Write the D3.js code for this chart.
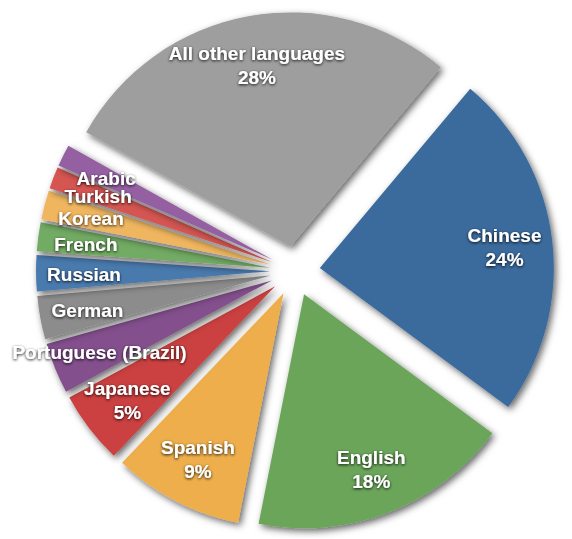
<!DOCTYPE html>
<html><head><meta charset="utf-8">
<script src="https://cdn.jsdelivr.net/npm/d3@7"></script>
<style>html,body{margin:0;padding:0;background:#fff;} svg{display:block}</style>
</head><body>
<script>
const languages = ["Chinese","English","Spanish","Japanese","Portuguese (Brazil)","German","Russian","French","Korean","Turkish","Arabic","All other languages"];
const shares = [24,18,9,5,3.5,3,2.5,2,2,1.5,1.5,28];
const pctLabels = ["24%","18%","9%","5%","","","","","","","","28%"];
const colors = ["#3b6a9c","#6aa55a","#eeae4b","#cb4040","#83508d","#8b8c8b","#4a7aae","#72ab63","#f0b65f","#d55551","#9460a2","#9d9e9d"];

const W = 572, H = 539, cx = 295, cy = 271, R = 234, explode = 25, labelR = 186;

const svg = d3.select("body").append("svg").attr("width", W).attr("height", H);
const defs = svg.append("defs");
const sh = defs.append("filter").attr("id","shadow").attr("x","-20%").attr("y","-20%").attr("width","140%").attr("height","140%");
sh.append("feDropShadow").attr("dx",2.5).attr("dy",3).attr("stdDeviation",3.5)
  .attr("flood-color","#000").attr("flood-opacity",0.6);
const ts = defs.append("filter").attr("id","tshadow").attr("x","-20%").attr("y","-40%").attr("width","140%").attr("height","180%");
ts.append("feGaussianBlur").attr("in","SourceAlpha").attr("stdDeviation",1.6).attr("result","b");
ts.append("feOffset").attr("in","b").attr("dx",0).attr("dy",1).attr("result","o");
ts.append("feComponentTransfer").attr("in","o").attr("result","o2")
  .append("feFuncA").attr("type","linear").attr("slope",0.9);
const tm = ts.append("feMerge");
tm.append("feMergeNode").attr("in","o2");
tm.append("feMergeNode").attr("in","SourceGraphic");

const pie = d3.pie().sort(null).value(d => d)
  .startAngle(40 * Math.PI / 180).endAngle(400 * Math.PI / 180);
const arcs = pie(shares);
const arc = d3.arc().innerRadius(0).outerRadius(R);
const labelArc = d3.arc().innerRadius(labelR).outerRadius(labelR);
const off = a => { const m = (a.startAngle + a.endAngle) / 2; return [explode * Math.sin(m), -explode * Math.cos(m)]; };

const g = svg.append("g").attr("transform", `translate(${cx},${cy})`);
g.selectAll("path.slice").data(arcs).join("path")
  .attr("class","slice")
  .attr("d", arc)
  .attr("fill", (d,i) => colors[i])
  .attr("filter","url(#shadow)")
  .attr("transform", d => { const o = off(d); return `translate(${o[0]},${o[1]})`; });

const lg = g.append("g").attr("filter","url(#tshadow)")
  .attr("font-family","'Liberation Sans', Arial, Helvetica, sans-serif")
  .attr("font-weight","bold").attr("font-size",19).attr("fill","#fff").attr("text-anchor","middle");
arcs.forEach((d,i) => {
  const o = off(d);
  const c = labelArc.centroid(d);
  const x = c[0] + o[0], y = c[1] + o[1] + 1.5;
  if (pctLabels[i]) {
    lg.append("text").attr("x",x).attr("y",y - 12).attr("dy","0.35em").text(languages[i]);
    lg.append("text").attr("x",x).attr("y",y + 12).attr("dy","0.35em").text(pctLabels[i]);
  } else {
    lg.append("text").attr("x",x).attr("y",y).attr("dy","0.35em").text(languages[i]);
  }
});
</script>
</body></html>
